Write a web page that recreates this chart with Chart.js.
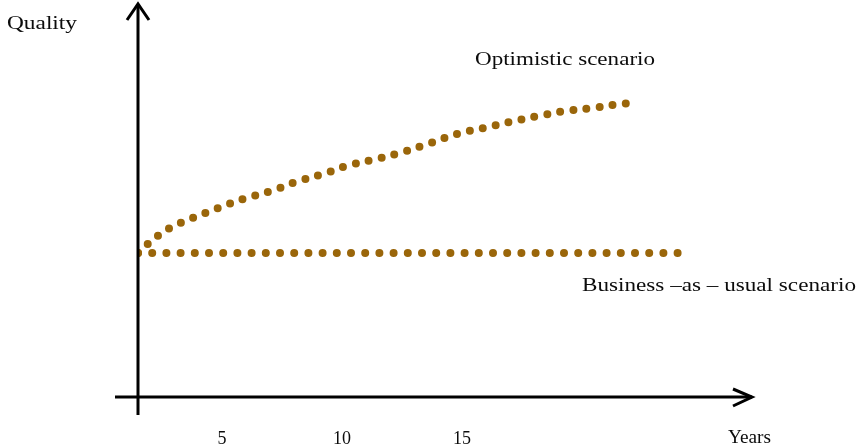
<!DOCTYPE html>
<html>
<head>
<meta charset="utf-8">
<script src="https://cdn.jsdelivr.net/npm/chart.js@4.4.1/dist/chart.umd.min.js"></script>
<style>
  html, body { margin: 0; padding: 0; background: #ffffff; }
  #wrap { width: 859px; height: 446px; }
</style>
</head>
<body>
<div id="wrap"><canvas id="c" width="859" height="446"></canvas></div>
<script>
// ---- data ----
const optYears   = [1.5, 1.86, 2.75, 3.8, 4.83, 5.9, 7.04, 8.1, 9.2, 10.3, 11.46, 12.54, 13.67, 14.8, 15.9, 17.0, 18.17, 19.3, 20.46, 21.6, 22.3];
const optQuality = [37.2, 39.3, 43.4, 46.3, 48.8, 51.2, 53.2, 55.6, 57.6, 59.9, 61.5, 63.3, 65.6, 68.0, 69.5, 71.1, 72.6, 73.9, 74.7, 75.7, 76.1];
const busYears   = [1.5, 24.0];
const busQuality = [37.2, 37.2];
const tickValues = [5, 10, 15];
const tickLabels = ['5', '10', '15'];
const axisTitleY = 'Quality';
const axisTitleX = 'Years';
const optLabel = 'Optimistic scenario';
const busLabel = 'Business \u2013as \u2013 usual scenario';

const BROWN = 'rgb(154,102,10)';
const SERIF = '"Liberation Serif", "DejaVu Serif", serif';

const toPoints = (xs, ys) => xs.map((x, i) => ({ x: x, y: ys[i] }));

const axesPlugin = {
  id: 'axesArrows',
  afterDraw(chart) {
    const ctx = chart.ctx;
    const xs = chart.scales.x, ys = chart.scales.y;
    const ox = xs.getPixelForValue(xs.min);
    const oy = ys.getPixelForValue(ys.min);
    const topY = chart.chartArea.top - 7;
    const rightX = chart.chartArea.right + 3;
    ctx.save();
    ctx.strokeStyle = '#000';
    ctx.lineWidth = 3;
    ctx.lineCap = 'butt';
    // vertical axis
    ctx.beginPath();
    ctx.moveTo(ox, oy + 18);
    ctx.lineTo(ox, topY + 1);
    ctx.stroke();
    // horizontal axis
    ctx.beginPath();
    ctx.moveTo(ox - 23, oy);
    ctx.lineTo(rightX - 1, oy);
    ctx.stroke();
    // arrow heads
    ctx.lineJoin = 'miter';
    ctx.beginPath();
    ctx.moveTo(ox - 11, topY + 17);
    ctx.lineTo(ox, topY + 1);
    ctx.lineTo(ox + 11, topY + 17);
    ctx.stroke();
    ctx.beginPath();
    ctx.moveTo(rightX - 20, oy - 8);
    ctx.lineTo(rightX - 1, oy);
    ctx.lineTo(rightX - 20, oy + 9);
    ctx.stroke();

    // text labels
    const drawText = (txt, left, baseline, width) => {
      ctx.save();
      ctx.font = '18px ' + SERIF;
      ctx.fillStyle = '#0c0c0c';
      ctx.textBaseline = 'alphabetic';
      ctx.textAlign = 'left';
      const w = ctx.measureText(txt).width;
      ctx.translate(left, baseline);
      ctx.scale(width / w, 1);
      ctx.fillText(txt, 0, 0);
      ctx.restore();
    };
    drawText(axisTitleY, 7, 29, 70);
    drawText(optLabel, 475, 65, 180);
    drawText(busLabel, 582, 291, 274);
    drawText(axisTitleX, 728, 443, 43);
    ctx.restore();
  }
};

new Chart(document.getElementById('c'), {
  type: 'line',
  data: {
    datasets: [
      {
        label: optLabel,
        data: toPoints(optYears, optQuality),
        borderColor: BROWN,
        borderWidth: 8,
        borderDash: [0, 13.2],
        borderCapStyle: 'round',
        pointRadius: 0,
        tension: 0.35,
        fill: false
      },
      {
        label: busLabel,
        data: toPoints(busYears, busQuality),
        borderColor: BROWN,
        borderWidth: 8,
        borderDash: [0, 14.2],
        borderCapStyle: 'round',
        pointRadius: 0,
        tension: 0,
        fill: false
      }
    ]
  },
  options: {
    responsive: false,
    animation: false,
    devicePixelRatio: 1,
    layout: { padding: { left: 138, right: 109, top: 10, bottom: 0 } },
    plugins: { legend: { display: false }, tooltip: { enabled: false }, title: { display: false } },
    scales: {
      x: {
        type: 'linear',
        min: 1.5,
        max: 27,
        grid: { display: false, drawTicks: false },
        border: { display: false },
        afterBuildTicks: (scale) => { scale.ticks = tickValues.map(v => ({ value: v })); },
        afterFit: (scale) => { scale.height = 49; },
        ticks: {
          color: '#0c0c0c',
          padding: 31,
          maxRotation: 0,
          autoSkip: false,
          font: { family: SERIF, size: 18 },
          callback: (value, index) => tickLabels[index]
        }
      },
      y: {
        type: 'linear',
        min: 0,
        max: 100,
        display: false
      }
    }
  },
  plugins: [axesPlugin]
});
</script>
</body>
</html>
